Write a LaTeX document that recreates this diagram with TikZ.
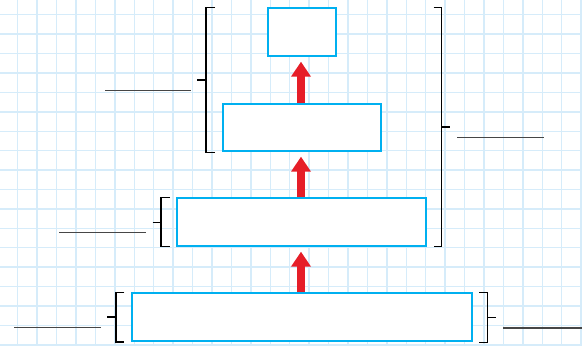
\documentclass[tikz,border=0pt]{standalone}
\usetikzlibrary{arrows.meta}
\definecolor{gridblue}{RGB}{214,236,250}
\definecolor{boxcyan}{RGB}{0,176,240}
\definecolor{arrowred}{RGB}{230,30,40}
\definecolor{leadergray}{RGB}{70,70,70}
\tikzset{
  box/.style={draw=boxcyan, line width=2pt, fill=white, inner sep=0pt},
  uparrow/.style={draw=arrowred, line width=8pt, -{Triangle[width=19pt,length=15pt]}},
  bracket/.style={draw=black, line width=1.1pt},
  leader/.style={draw=leadergray, line width=1.2pt}
}
\begin{document}
\begin{tikzpicture}[x=1pt,y=-1pt]
\useasboundingbox (0,0) rectangle (582,346);
\fill[white] (0,0) rectangle (582,346);
% grid
\foreach \k in {0,...,29} {
  \draw[gridblue, line width=1.4pt] ({17.7+19.43*\k},0) -- ({17.7+19.43*\k},346);
}
\foreach \k in {0,...,17} {
  \draw[gridblue, line width=1.4pt] (0,{14.7+19.42*\k}) -- (582,{14.7+19.42*\k});
}
% boxes
\node[box, minimum width=68pt, minimum height=48pt] (b1) at (301.7,32.3) {};
\node[box, minimum width=158.3pt, minimum height=47.6pt] (b2) at (301.85,127.5) {};
\node[box, minimum width=249.3pt, minimum height=48pt] (b3) at (301.7,222.3) {};
\node[box, minimum width=340pt, minimum height=48pt] (b4) at (301.7,317.3) {};
% arrows
\draw[uparrow] (b2.north -| 301,0) -- ([yshift=-4.4pt]b1.south -| 301,0);
\draw[uparrow] (b3.north -| 301,0) -- ([yshift=-4.4pt]b2.south -| 301,0);
\draw[uparrow] (b4.north -| 301,0) -- ([yshift=-4.4pt]b3.south -| 301,0);
% bracket A (boxes 1-2, left)
\draw[bracket] (215,7.3) -- (206,7.3) -- (206,152.3) -- (215,152.3);
\draw[bracket] (197.3,80) -- (206,80);
\draw[leader] (105,90.3) -- (191,90.3);
% bracket B (boxes 1-3, right)
\draw[bracket] (433.5,7.3) -- (441.7,7.3) -- (441.7,246.7) -- (433.5,246.7);
\draw[bracket] (441.7,127) -- (450.3,127);
\draw[leader] (457.3,137.7) -- (543.7,137.7);
% bracket C (box 3, left)
\draw[bracket] (170,197.3) -- (161,197.3) -- (161,246.7) -- (170,246.7);
\draw[bracket] (152.7,222.3) -- (161,222.3);
\draw[leader] (59.3,232.7) -- (145.7,232.7);
% bracket D (box 4, left)
\draw[bracket] (124.3,292.7) -- (116,292.7) -- (116,342) -- (124.3,342);
\draw[bracket] (107.3,317) -- (116,317);
\draw[leader] (14.3,327.7) -- (100.7,327.7);
% bracket E (box 4, right)
\draw[bracket] (479.3,292.3) -- (487.7,292.3) -- (487.7,342.3) -- (479.3,342.3);
\draw[bracket] (487.7,317.3) -- (496,317.3);
\draw[leader] (503.3,328) -- (582,328);
\end{tikzpicture}
\end{document}
